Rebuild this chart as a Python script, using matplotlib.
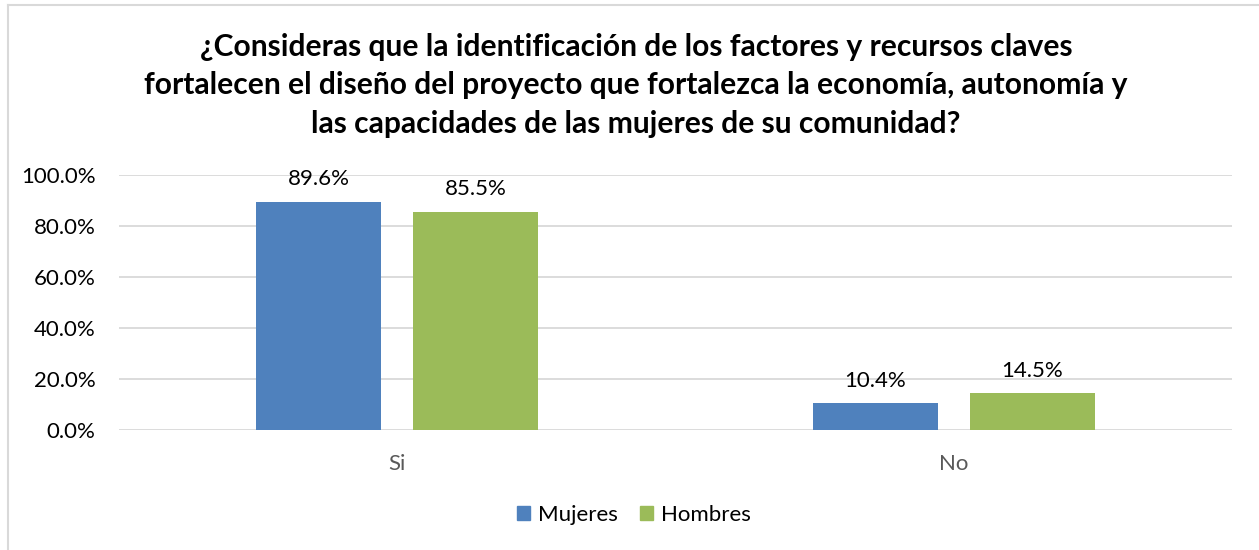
import matplotlib
matplotlib.use("Agg")
import matplotlib.pyplot as plt
from matplotlib.lines import Line2D
import numpy as np

categories = ["Si", "No"]
series_names = ["Mujeres", "Hombres"]
mujeres = [0.896, 0.104]
hombres = [0.855, 0.145]
yticks = [0.0, 0.2, 0.4, 0.6, 0.8, 1.0]
title = ("¿Consideras que la identificación de los factores y recursos claves\n"
         "fortalecen el diseño del proyecto que fortalezca la economía, autonomía y\n"
         "las capacidades de las mujeres de su comunidad?")

colors = ["#4F81BD", "#9BBB59"]
plt.rcParams['font.family'] = ['Lato', 'DejaVu Sans']

W, H = 1259, 550
fig = plt.figure(figsize=(W / 100, H / 100), dpi=100)
ax = fig.add_axes([119 / W, 1 - 430 / H, (1232 - 119) / W, (430 - 175) / H])

x = np.arange(len(categories))
bw = 0.2246
off = 0.141
b1 = ax.bar(x - off, mujeres, bw, color=colors[0], label=series_names[0], zorder=3)
b2 = ax.bar(x + off, hombres, bw, color=colors[1], label=series_names[1], zorder=3)
for bars, vals in ((b1, mujeres), (b2, hombres)):
    for r, v in zip(bars, vals):
        ax.annotate(f"{v*100:.1f}%", (r.get_x() + r.get_width() / 2, v),
                    xytext=(0, 9), textcoords="offset points", ha="center", va="bottom",
                    fontsize=16, color="#000000")

ax.set_xlim(-0.5, 1.5)
ax.set_ylim(0, 1.0)
ax.set_yticks(yticks)
ax.set_yticklabels([f"{t*100:.1f}%" for t in yticks], fontsize=16, color="#000000")
ax.set_xticks(x)
ax.set_xticklabels(categories, fontsize=16, color="#595959")
ax.tick_params(axis="both", length=0)
ax.tick_params(axis="y", pad=17)
ax.tick_params(axis="x", pad=17)
ax.grid(axis="y", color="#D9D9D9", linewidth=1.3, zorder=0)
for s in ax.spines.values():
    s.set_visible(False)

fig.text(636 / W, 1 - 33 / H, title, ha="center", va="top", fontsize=21.6,
         fontweight="bold", linespacing=1.45, color="#000000")

handles = [plt.Rectangle((0, 0), 1, 1, color=c) for c in colors]
fig.legend(handles, series_names, loc="center", bbox_to_anchor=(634 / W, 1 - 515 / H),
           ncol=2, frameon=False, fontsize=16, handlelength=0.6, handleheight=0.6,
           handletextpad=0.35, columnspacing=1.0)

fig.add_artist(Line2D([8 / W, 8 / W], [0, 1 - 5 / H], transform=fig.transFigure,
                      color="#D9D9D9", linewidth=1.5))
fig.add_artist(Line2D([8 / W, 1], [1 - 5 / H, 1 - 5 / H], transform=fig.transFigure,
                      color="#D9D9D9", linewidth=1.5))

fig.savefig("out.png", dpi=100)
